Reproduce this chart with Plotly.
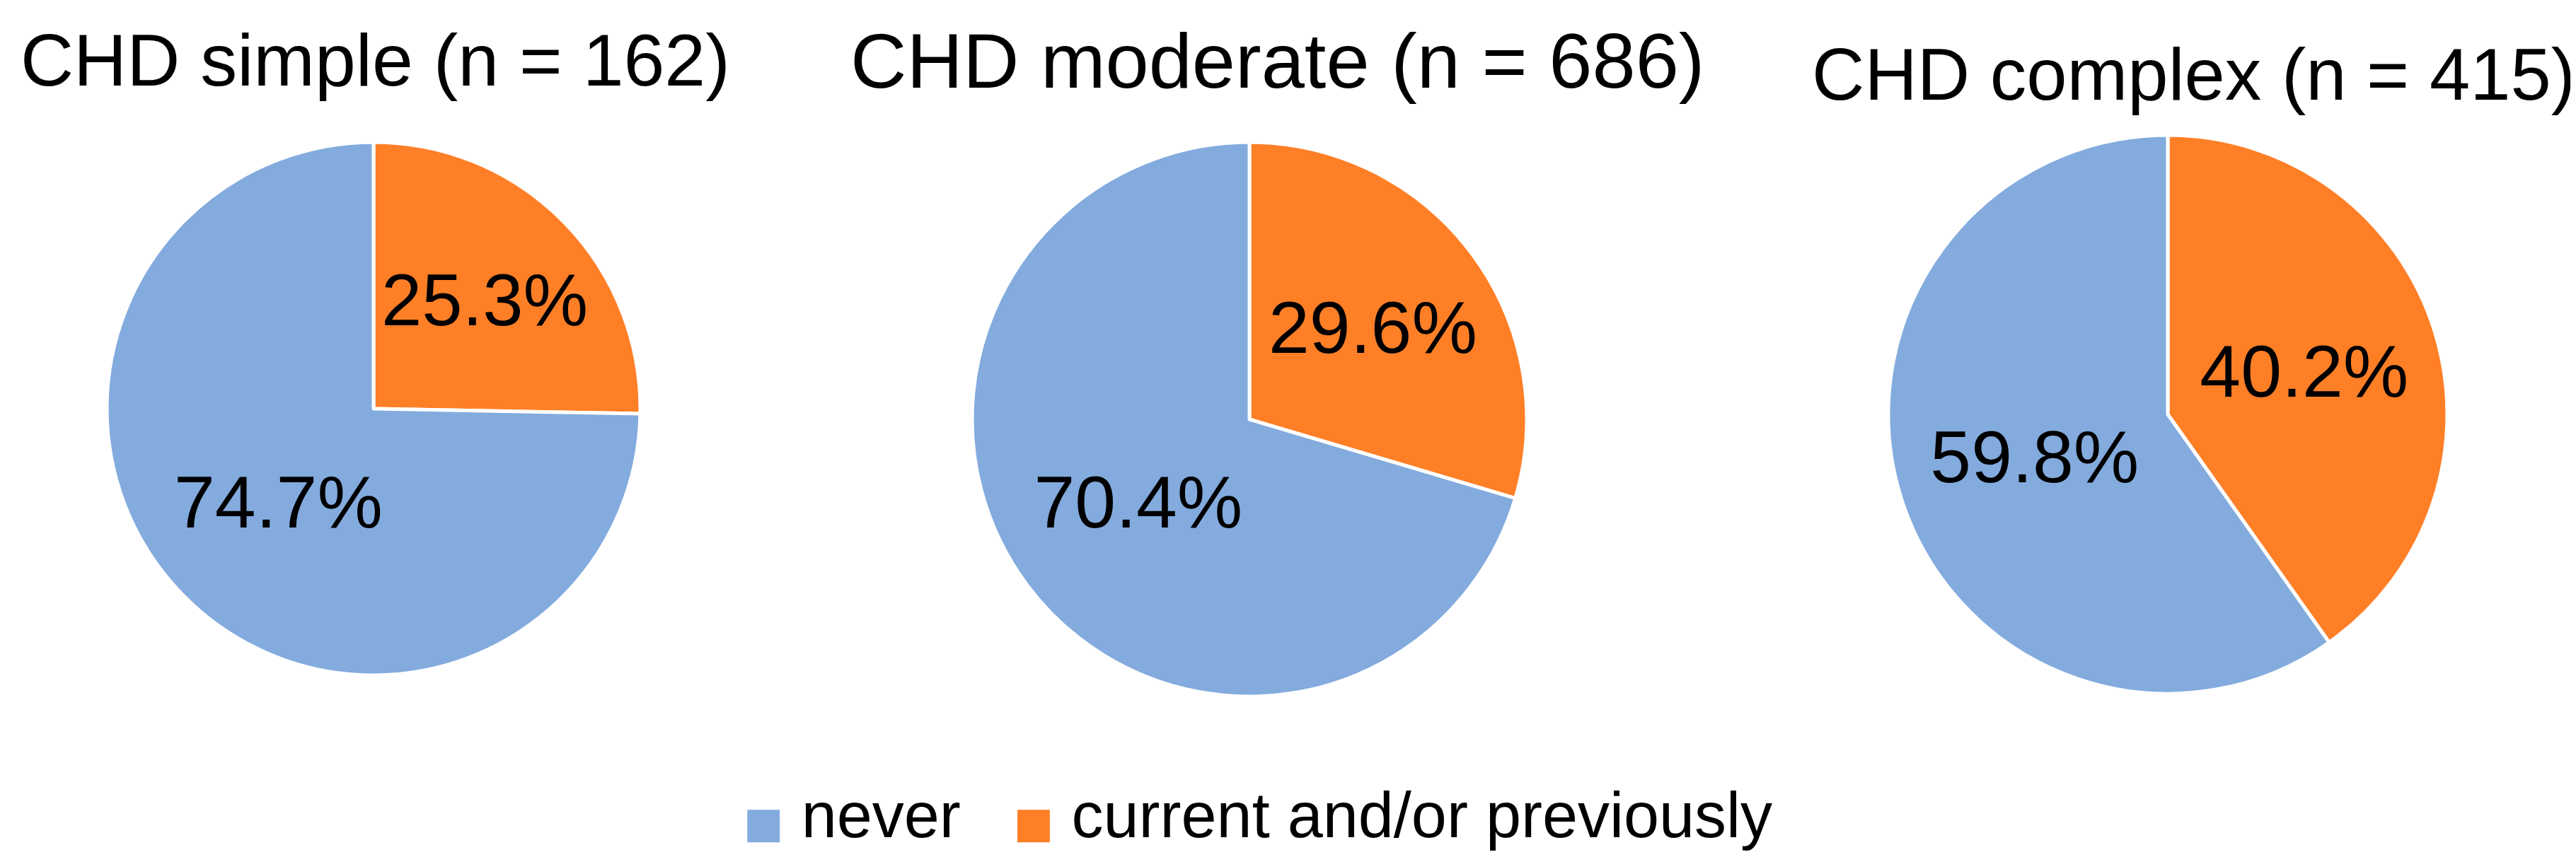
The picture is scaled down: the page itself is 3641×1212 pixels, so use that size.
import plotly.graph_objects as go

labels = ["never", "current and/or previously"]
groups = ["CHD simple (n = 162)", "CHD moderate (n = 686)", "CHD complex (n = 415)"]
never_pct = [74.7, 70.4, 59.8]
current_pct = [25.3, 29.6, 40.2]
colors = ["#83ABDE", "#FF7F27"]

W, H = 3641, 1212
centers = [(520, 570), (1758, 585), (3056, 578)]
radii = [377, 392, 395]
title_pos = [(522, 77), (1797, 77), (3092, 97)]
title_sizes = [104, 110, 103]
FONT = "Liberation Sans, Arial, sans-serif"

fig = go.Figure()
for i in range(3):
    cx, cy = centers[i]
    r = radii[i]
    # orange slice first so that it runs clockwise from 12 o'clock
    fig.add_trace(go.Pie(
        labels=[labels[1], labels[0]],
        values=[current_pct[i], never_pct[i]],
        text=[f"{current_pct[i]:.1f}%", f"{never_pct[i]:.1f}%"],
        textinfo="text",
        textposition="inside",
        insidetextorientation="horizontal",
        textfont=dict(family=FONT, size=104, color="black"),
        marker=dict(colors=[colors[1], colors[0]], line=dict(color="white", width=5)),
        sort=False,
        direction="clockwise",
        rotation=0,
        showlegend=False,
        domain=dict(x=[(cx - r) / W, (cx + r) / W],
                    y=[(H - cy - r) / H, (H - cy + r) / H]),
    ))

annotations = []
for i, g in enumerate(groups):
    tx, ty = title_pos[i]
    annotations.append(dict(
        text=g, x=tx / W, y=1 - ty / H, xref="paper", yref="paper",
        xanchor="center", yanchor="middle", showarrow=False,
        font=dict(family=FONT, size=title_sizes[i], color="black"),
    ))

# legend built from labels and colours
sq = "<span style='font-family:DejaVu Sans; font-size:60px; color:{c}'>■</span>"
legend_text = "&nbsp;&nbsp;&nbsp;".join(
    sq.format(c=colors[k]) + "&nbsp;" + labels[k] for k in range(len(labels))
)
annotations.append(dict(
    text=legend_text, x=1770 / W, y=1 - 1145 / H, xref="paper", yref="paper",
    xanchor="center", yanchor="middle", showarrow=False,
    font=dict(family=FONT, size=90, color="black"),
))

fig.update_layout(
    width=W, height=H,
    margin=dict(l=0, r=0, t=0, b=0),
    paper_bgcolor="white", plot_bgcolor="white",
    annotations=annotations,
    showlegend=False,
)

fig.write_html("out.html")
